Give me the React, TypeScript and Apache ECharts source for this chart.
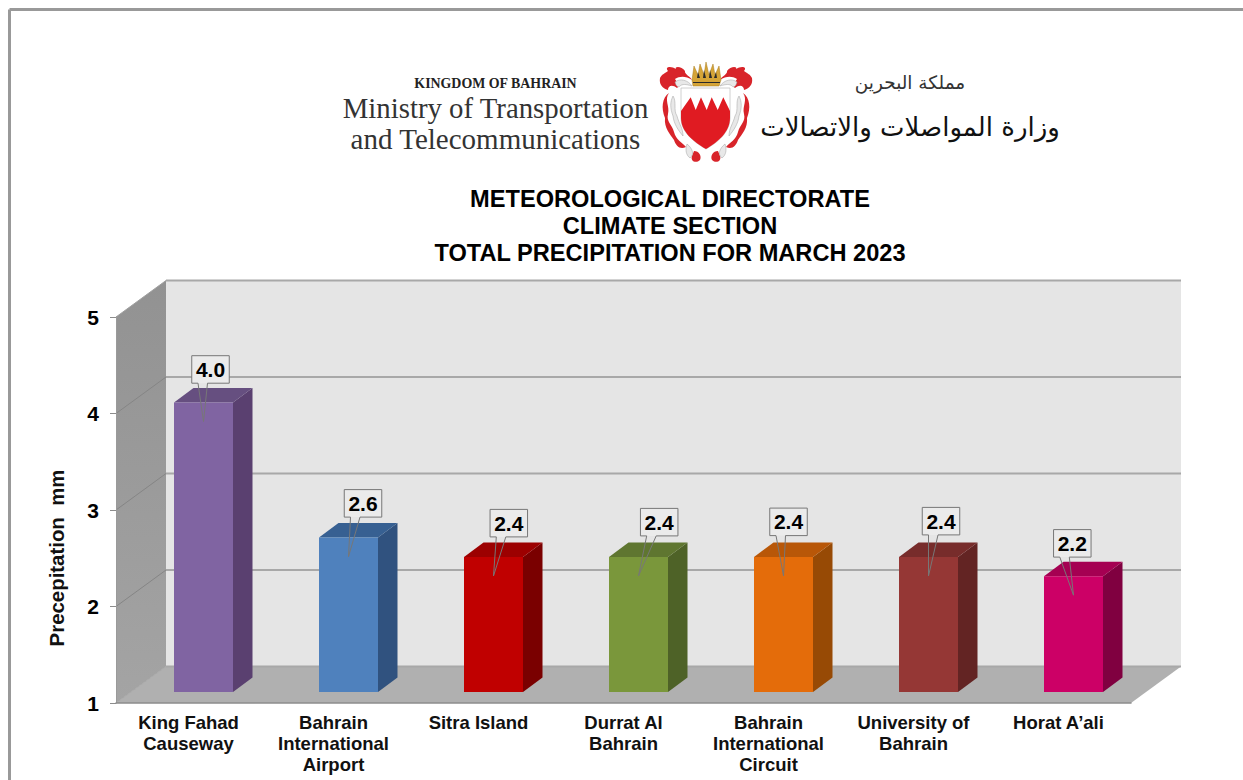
import React, { useEffect, useRef } from "react";
import * as echarts from "echarts";

const categories = [
  "King Fahad\nCauseway",
  "Bahrain\nInternational\nAirport",
  "Sitra Island",
  "Durrat Al\nBahrain",
  "Bahrain\nInternational\nCircuit",
  "University of\nBahrain",
  "Horat A’ali",
];
const values = [4.0, 2.6, 2.4, 2.4, 2.4, 2.4, 2.2];
const yTicks = [1, 2, 3, 4, 5];
const titleLines = ["METEOROLOGICAL DIRECTORATE", "CLIMATE SECTION", "TOTAL PRECIPITATION FOR MARCH 2023"];

const frontColors = ["#8064a2", "#4f81bd", "#c00000", "#7a973b", "#e46c0a", "#953735", "#cc0066"];
const topColors = ["#664f80", "#376092", "#9c0000", "#5f7630", "#b85708", "#772c2b", "#a50052"];
const sideColors = ["#5a4070", "#30527f", "#7a0000", "#4e6227", "#974a05", "#632423", "#800040"];
// Callout box offset from the bar's front-top centre
const calloutDx = [7, 14.5, 15.3, 20.7, 5, 12.5, -1.2];
const calloutDy = [-46.8, -48, -47.5, -48.5, -48.8, -49.5, -46.6];

// 3D projection constants
const ROOM_DX = 50;
const ROOM_DY = -36.5;
const BAR_OFF_X = 15;
const BAR_OFF_Y = -11;
const BAR_W = 59;
const BAR_DX = 19.5;
const BAR_DY = -14.5;

echarts.graphic.registerShape(
  "mantleRed",
  echarts.graphic.extendPath(
    "M668 71 C664 66 672 66 676 69 C674 66 682 66 685 71 C684 74 690 76 692 80 C686 76 680 76 675 79 C678 84 680 86 677 88 C672 84 668 86 668 90 C662 88 659 84 660 78 C662 74 664 74 668 71 Z M669 93 C664 100 670 106 668 114 C666 122 672 124 674 132 C676 140 682 142 686 147 C680 150 676 146 674 140 C670 134 664 128 665 118 C661 108 662 98 669 93 Z M694 151 C699 151 702 156 700 160 C696 164 690 161 692 156 Z",
    {}
  ) as any
);
echarts.graphic.registerShape(
  "mantleGrey",
  echarts.graphic.extendPath(
    "M675 82 C680 78 688 80 692 86 C686 84 682 84 680 86 C678 88 676 86 675 82 Z M673 96 C677 102 673 110 677 116 C679 124 683 128 683 136 C678 130 674 124 673 116 C670 108 670 102 673 96 Z M687 144 C692 148 695 154 690 158 C686 155 685 150 687 144 Z",
    {}
  ) as any
);
echarts.graphic.registerShape(
  "shield",
  echarts.graphic.extendPath("M681 88 L730 88 L730 118 C730 132 718 142 706 149 C694 142 681 132 681 118 Z", {}) as any
);
echarts.graphic.registerShape(
  "shieldRed",
  echarts.graphic.extendPath(
    "M681 111 L690.7 97.3 L695.7 110 L701 97.3 L706.7 110 L711.7 97.3 L717.7 110 L723.3 97.3 L730 111 L730 118 C730 132 718 142 706 149 C694 142 681 132 681 118 Z",
    {}
  ) as any
);
echarts.graphic.registerShape(
  "crown",
  echarts.graphic.extendPath(
    "M692 80 L694 66 L698 75 L700 64 L704 75 L706 62 L709 75 L713 64 L715 75 L719 66 L721 80 L719 86 L693 86 Z",
    {}
  ) as any
);
echarts.graphic.registerShape(
  "crownDark",
  echarts.graphic.extendPath(
    "M697 78 L698 72 L700 78 Z M703 78 L704 70 L706 78 Z M709 78 L710 70 L712 78 Z M714 78 L716 72 L717 78 Z M693 82 L720 82 L720 83 L693 83 Z",
    {}
  ) as any
);

const serif = "'Liberation Serif', serif";
const sans = "'Liberation Sans', Arial, sans-serif";

function roomItem(_: any, api: any) {
  const [x0, yBottom] = api.coord([0, 1]);
  const [x6] = api.coord([categories.length - 1, 1]);
  const [, yTop] = api.coord([0, 5]);
  const band = api.size([1, 0])[0];
  const l = x0 - band / 2;
  const r = x6 + band / 2;
  const poly = (points: number[][], style: any) => ({ type: "polygon", shape: { points }, style, silent: true });
  return {
    type: "group",
    children: [
      poly(
        [[l + ROOM_DX, yTop + ROOM_DY], [r + ROOM_DX, yTop + ROOM_DY], [r + ROOM_DX, yBottom + ROOM_DY], [l + ROOM_DX, yBottom + ROOM_DY]],
        { fill: "#e5e5e5" }
      ),
      poly(
        [[l, yTop], [l + ROOM_DX, yTop + ROOM_DY], [l + ROOM_DX, yBottom + ROOM_DY], [l, yBottom]],
        { fill: new echarts.graphic.LinearGradient(0, 0, 0, 1, [{ offset: 0, color: "#929292" }, { offset: 1, color: "#a4a4a4" }]) }
      ),
      poly(
        [[l, yBottom], [l + ROOM_DX, yBottom + ROOM_DY], [r + ROOM_DX, yBottom + ROOM_DY], [r, yBottom]],
        { fill: "#b0b0b0" }
      ),
    ],
  };
}

function gridItem(params: any, api: any) {
  const tick = api.value(0);
  const [x0, y] = api.coord([0, tick]);
  const [x6] = api.coord([categories.length - 1, tick]);
  const band = api.size([1, 0])[0];
  const l = x0 - band / 2;
  const r = x6 + band / 2;
  return {
    type: "group",
    children: [
      {
        type: "line",
        shape: { x1: l, y1: y, x2: l + ROOM_DX, y2: y + ROOM_DY },
        style: { stroke: tick === 1 ? "#a8a8a8" : tick === 5 ? "#a0a0a0" : "#858585", lineWidth: 1 },
      },
      {
        type: "line",
        shape: { x1: l + ROOM_DX, y1: y + ROOM_DY, x2: r + ROOM_DX, y2: y + ROOM_DY },
        style: { stroke: "#a8a8a8", lineWidth: 2 },
      },
    ],
  };
}

function barItem(params: any, api: any) {
  const i = params.dataIndex;
  const v = api.value(1);
  const [cx, yTop] = api.coord([i, v]);
  const [, yBase] = api.coord([i, 1]);
  const x1 = cx + BAR_OFF_X - BAR_W / 2;
  const x2 = x1 + BAR_W;
  const t = yTop + BAR_OFF_Y;
  const b = yBase + BAR_OFF_Y;
  return {
    type: "group",
    children: [
      { type: "polygon", shape: { points: [[x2, t], [x2 + BAR_DX, t + BAR_DY], [x2 + BAR_DX, b + BAR_DY], [x2, b]] }, style: { fill: sideColors[i] } },
      { type: "polygon", shape: { points: [[x1, t], [x1 + BAR_DX, t + BAR_DY], [x2 + BAR_DX, t + BAR_DY], [x2, t]] }, style: { fill: topColors[i] } },
      { type: "rect", shape: { x: x1, y: t, width: BAR_W, height: b - t }, style: { fill: frontColors[i] } },
    ],
  };
}

function calloutItem(params: any, api: any) {
  const i = params.dataIndex;
  const v = api.value(1);
  const [cx, yTop] = api.coord([i, v]);
  const barC = cx + BAR_OFF_X;
  const t = yTop + BAR_OFF_Y;
  const W = 37.5;
  const H = 27.5;
  const bc = barC + calloutDx[i];
  const by = t + calloutDy[i];
  const xl = bc - W / 2;
  const xr = bc + W / 2;
  const yb = by + H;
  return {
    type: "group",
    children: [
      { type: "rect", shape: { x: xl, y: by, width: W, height: H }, style: { fill: "#ebebeb" } },
      {
        type: "polygon",
        shape: { points: [[xl, by], [xr, by], [xr, yb], [bc - 3, yb], [barC, t + 19], [bc - 12.5, yb], [xl, yb]] },
        style: { fill: "none", stroke: "#777777", lineWidth: 1 },
      },
      {
        type: "text",
        style: {
          text: v.toFixed(1),
          x: bc,
          y: by + H / 2,
          align: "center",
          verticalAlign: "middle",
          fill: "#000000",
          font: `bold 21px ${sans}`,
        },
      },
    ],
  };
}

export default function App() {
  const ref = useRef<HTMLDivElement>(null);
  useEffect(() => {
    document.body.style.margin = "0";
    const chart = echarts.init(ref.current!, null, { renderer: "svg" });
    chart.setOption({
      animation: false,
      backgroundColor: "#ffffff",
      title: {
        text: titleLines.join("\n"),
        left: 665,
        top: 180,
        textAlign: "center",
        textStyle: { fontFamily: sans, fontWeight: "bold", fontSize: 23.6, lineHeight: 27, color: "#000000" },
      },
      grid: { left: 116, top: 317, width: 1015, height: 386 },
      xAxis: {
        type: "category",
        data: categories,
        z: 1,
        axisLine: { show: true, lineStyle: { color: "#8c8c8c", width: 1.5 } },
        axisTick: { show: false },
        axisLabel: {
          interval: 0,
          margin: 9,
          color: "#111111",
          fontFamily: sans,
          fontWeight: "bold",
          fontSize: 18.5,
          lineHeight: 21,
        },
      },
      yAxis: {
        type: "value",
        min: 1,
        max: 5,
        interval: 1,
        z: 1,
        name: "Precepitation  mm",
        nameLocation: "middle",
        nameRotate: 90,
        nameGap: 49,
        nameTextStyle: { fontFamily: sans, fontWeight: "bold", fontSize: 20.4, color: "#111111", padding: [0, 96, 0, 0] },
        splitLine: { show: false },
        axisLine: { show: true, lineStyle: { color: "#9a9a9a", width: 1 } },
        axisTick: { show: true, length: 6, lineStyle: { color: "#8c8c8c" } },
        axisLabel: { margin: 17, color: "#000000", fontFamily: sans, fontWeight: "bold", fontSize: 21 },
      },
      graphic: {
        elements: [
          { type: "line", shape: { x1: 9.5, y1: 9.5, x2: 1243, y2: 9.5 }, style: { stroke: "#999999", lineWidth: 3 } },
          { type: "line", shape: { x1: 9.5, y1: 9.5, x2: 9.5, y2: 780 }, style: { stroke: "#999999", lineWidth: 3 } },
          { type: "text", style: { text: "KINGDOM OF BAHRAIN", x: 495.5, y: 83, align: "center", verticalAlign: "middle", fill: "#222222", font: `bold 13.9px ${serif}` } },
          { type: "text", style: { text: "Ministry of Transportation", x: 495.5, y: 108, align: "center", verticalAlign: "middle", fill: "#333333", font: `28.8px ${serif}` } },
          { type: "text", style: { text: "and Telecommunications", x: 495.5, y: 139, align: "center", verticalAlign: "middle", fill: "#333333", font: `29px ${serif}` } },
          { type: "mantleRed", style: { fill: "#d8242a" } },
          { type: "mantleRed", x: 1412, scaleX: -1, style: { fill: "#d8242a" } },
          { type: "mantleGrey", style: { fill: "#e8e8e8", stroke: "#a0a0a0", lineWidth: 0.5 } },
          { type: "mantleGrey", x: 1412, scaleX: -1, style: { fill: "#e8e8e8", stroke: "#a0a0a0", lineWidth: 0.5 } },
          { type: "shield", style: { fill: "#ffffff", stroke: "#c4c4c4", lineWidth: 0.8 } },
          { type: "shieldRed", style: { fill: "#e01b22" } },
          { type: "crown", style: { fill: "#d5a437", stroke: "#a97d1e", lineWidth: 0.5 } },
          { type: "crownDark", style: { fill: "#2a2a2a" } },
          { type: "text", style: { text: "مملكة البحرين", x: 910, y: 82, align: "center", verticalAlign: "middle", fill: "#333333", font: "18.5px 'DejaVu Sans'" } },
          { type: "text", style: { text: "وزارة المواصلات والاتصالات", x: 910, y: 127, align: "center", verticalAlign: "middle", fill: "#111111", font: "26px 'DejaVu Sans'" } },
        ],
      },
      series: [
        { type: "custom", name: "room", z: 0, silent: true, data: [[0]], renderItem: roomItem, encode: { x: 0 } },
        { type: "custom", name: "grid", z: 0.5, silent: true, data: yTicks.map((t) => [t]), renderItem: gridItem, encode: { y: 0 } },
        { type: "custom", name: "Precipitation", z: 2, data: values.map((v, i) => [i, v]), renderItem: barItem, encode: { x: 0, y: 1 } },
        { type: "custom", name: "Labels", z: 3, data: values.map((v, i) => [i, v]), renderItem: calloutItem, encode: { x: 0, y: 1 } },
      ],
    });
    return () => chart.dispose();
  }, []);
  return <div ref={ref} style={{ position: "absolute", left: 0, top: 0, width: 1243, height: 780 }} />;
}
